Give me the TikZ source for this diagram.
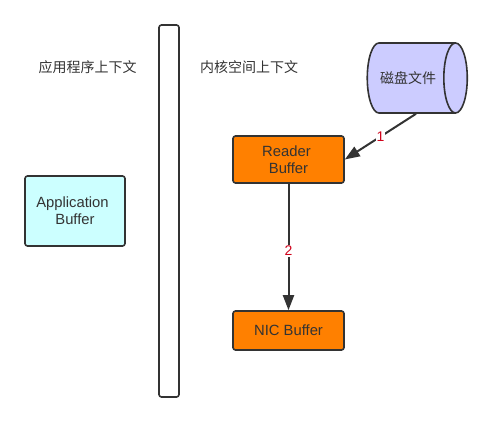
\documentclass[tikz,border=0pt]{standalone}
\usepackage{fontspec}
\setmainfont{Liberation Sans}
\newfontfamily\cjk{Noto Sans CJK SC}
\usetikzlibrary{shapes.geometric,arrows.meta}
\definecolor{ink}{HTML}{333333}
\definecolor{orangebox}{HTML}{FF8000}
\definecolor{cyanbox}{HTML}{CCFFFF}
\definecolor{diskfill}{HTML}{CCCCFF}
\definecolor{numred}{HTML}{D0021B}
\tikzset{
  box/.style={draw=ink,line width=1.6pt,rounded corners=2.5pt,inner sep=0pt,align=center,text=ink,font=\fontsize{14.8}{17}\selectfont},
  plain/.style={inner sep=0pt,text=ink,font=\fontsize{14}{17}\selectfont\cjk},
  conn/.style={draw=ink,line width=2pt,-{Triangle[length=15pt,width=11pt]}},
  num/.style={fill=white,inner sep=1pt,text=numred,font=\fontsize{14}{15}\selectfont}
}
\begin{document}
\begin{tikzpicture}[x=1pt,y=-1pt]
\useasboundingbox (0,0) rectangle (493,422);
\node[box,fill=white,minimum width=20pt,minimum height=372pt] (bar) at (169,211) {};
\node[plain] (applabel) at (87.5,67) {应用程序上下文};
\node[plain] (kernlabel) at (249,67) {内核空间上下文};
\node[box,fill=cyanbox,minimum width=100pt,minimum height=70pt] (app) at (75,211) {Application\hspace*{5pt}\\Buffer};
\node[box,fill=orangebox,minimum width=111pt,minimum height=47pt] (reader) at (288.5,159.5) {Reader\hspace*{4pt}\\Buffer};
\node[box,fill=orangebox,minimum width=111pt,minimum height=39pt] (nic) at (288.5,330.5) {NIC Buffer};
\node[cylinder,draw=ink,line width=1.6pt,fill=diskfill,shape border rotate=0,aspect=1.8,minimum height=100pt,minimum width=70pt,inner sep=0pt,text=ink,font=\fontsize{14}{17}\selectfont\cjk] (disk) at (411,78) {磁盘文件\hspace*{6pt}};
\draw[conn] ([xshift=5pt]disk.south) -- node[num,pos=0.5] (n1) {1} (reader.east);
\draw[conn] (reader.south) -- node[num,pos=0.53] (n2) {2} (nic.north);
\end{tikzpicture}
\end{document}
